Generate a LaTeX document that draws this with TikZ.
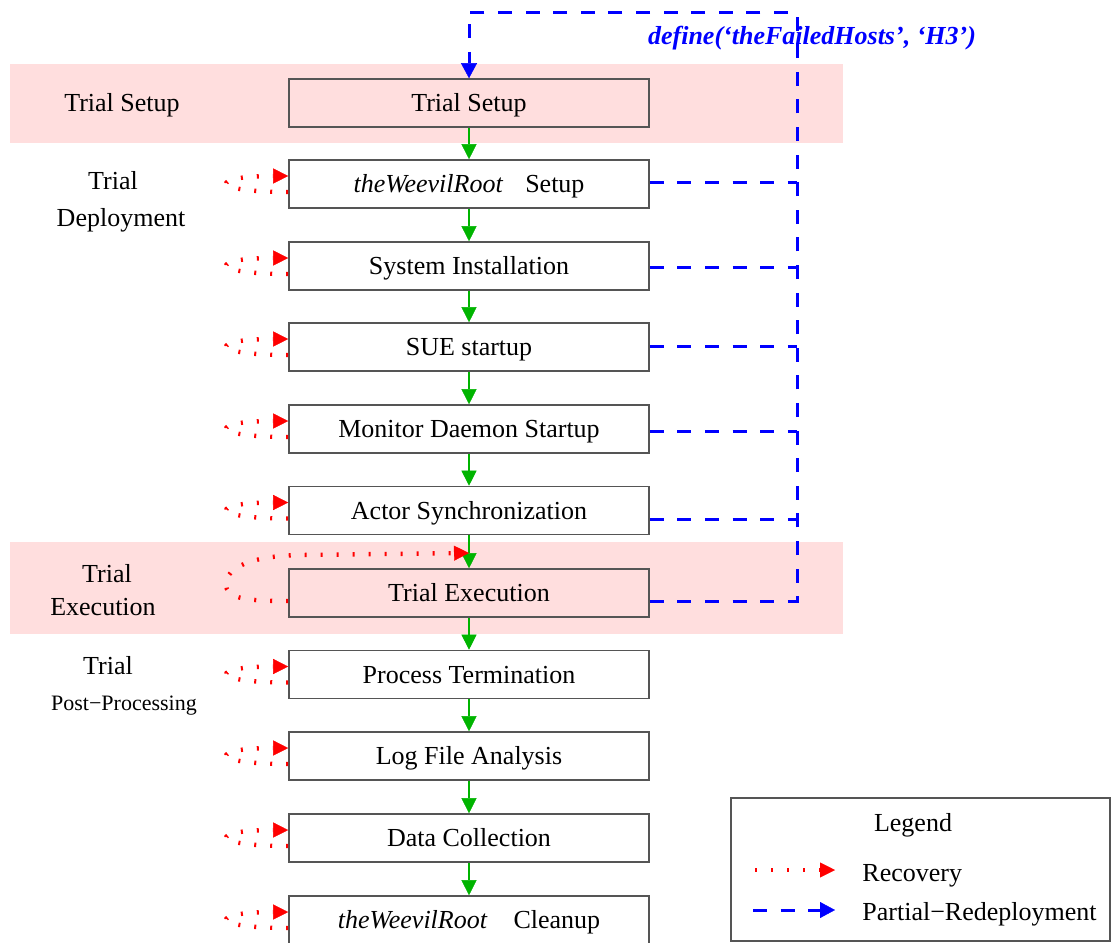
\documentclass[tikz,border=0pt]{standalone}
\usepackage{fontspec}
\setmainfont{Liberation Serif}
\usetikzlibrary{arrows.meta,calc}
\definecolor{bandpink}{RGB}{255,222,222}
\definecolor{flowgreen}{RGB}{0,180,0}
\definecolor{boxline}{RGB}{85,85,85}
\begin{document}
\begin{tikzpicture}[x=0.5pt,y=-0.5pt,
  every node/.style={font=\fontsize{13}{15.6}\selectfont},
  stage/.style={draw=boxline, line width=0.8pt, minimum width=180pt,
    minimum height=24pt, inner sep=0pt, text height=9pt, text depth=0.4pt},
  lbl/.style={inner sep=0pt, text height=9pt, text depth=0.4pt},
  flow/.style={draw=flowgreen, line width=0.6pt,
    -{Triangle[length=7.5pt,width=7.5pt,line width=0.2pt]}},
  recov/.style={draw=red, line width=2.2pt, dash pattern=on 1pt off 7pt,
    -{Triangle[length=7.5pt,width=7.5pt,line width=0.2pt]}},
  redeploy/.style={draw=blue, line width=1.5pt, dash pattern=on 7pt off 6.8pt},
  redeployarrow/.style={redeploy,
    -{Triangle[length=7.5pt,width=8pt,line width=0.2pt]}}]
\useasboundingbox (0,0) rectangle (1111,942);

% phase bands
\fill[bandpink] (10,64) rectangle (843,143);
\fill[bandpink] (10,542) rectangle (843,634);

% phase labels
\node[lbl] (ls)  at (122,103) {Trial Setup};
\node[lbl] (ld1) at (113,181) {Trial};
\node[lbl] (ld2) at (121,218) {Deployment};
\node[lbl] (le1) at (107,574) {Trial};
\node[lbl] (le2) at (103,607) {Execution};
\node[lbl] (lp1) at (108,666) {Trial};
\node[lbl, font=\fontsize{11}{13}\selectfont, text height=7.6pt, text depth=0.4pt]
  (lp2) at (124,703) {Post−Processing};

% trial stages
\node[stage] (s1)  at (469,103)   {Trial Setup};
\node[stage] (s2)  at (469,184)   {\textit{theWeevilRoot}\hspace{11pt}Setup};
\node[stage] (s3)  at (469,266)   {System Installation};
\node[stage] (s4)  at (469,347)   {SUE startup};
\node[stage] (s5)  at (469,429)   {Monitor Daemon Startup};
\node[stage] (s6)  at (469,510.5) {Actor Synchronization};
\node[stage] (s7)  at (469,593)   {Trial Execution};
\node[stage] (s8)  at (469,674.5) {Process Termination};
\node[stage] (s9)  at (469,756)   {Log File Analysis};
\node[stage] (s10) at (469,838)   {Data Collection};
\node[stage] (s11) at (469,920)   {\textit{theWeevilRoot}\hspace{13pt}Cleanup};

% normal flow
\foreach \a/\b in {s1/s2,s2/s3,s3/s4,s4/s5,s5/s6,s6/s7,s7/s8,s8/s9,s9/s10,s10/s11}
  \draw[flow] (\a) -- (\b);

% recovery loops
\foreach \s in {s2,s3,s4,s5,s6,s8,s9,s10,s11}
  \draw[recov] ($(\s.west)+(0,8)$) .. controls ($(\s.west)+(-80,8)$)
    and ($(\s.west)+(-80,-8)$) .. ($(\s.west)+(0,-8)$);
\coordinate (xin) at (469,553);
\draw[recov] ($(s7.west)+(0,8)$) .. controls ($(s7.west)+(-45,8)$) and (226,598)
  .. (226,584) .. controls (226,568) and (250,556) .. (300,555) -- (xin);

% partial redeployment
\node[font=\fontsize{13}{15.6}\selectfont\bfseries\itshape, text=blue, inner sep=0pt]
  (def) at (812,38) {define(‘theFailedHosts’, ‘H3’)};
\coordinate (vb) at (797,601);
\coordinate (vt) at (797,12);
\coordinate (ht) at (469,12);
\coordinate (j2) at (797,182);
\coordinate (j3) at (797,267);
\coordinate (j4) at (797,346);
\coordinate (j5) at (797,431);
\coordinate (j6) at (797,519);
\draw[redeploy] ($(s2.east)+(0,-2)$) -- (j2);
\draw[redeploy] ($(s3.east)+(0,1)$) -- (j3);
\draw[redeploy] ($(s4.east)+(0,-1)$) -- (j4);
\draw[redeploy] ($(s5.east)+(0,2)$) -- (j5);
\draw[redeploy] ($(s6.east)+(0,8.5)$) -- (j6);
\draw[redeployarrow] ($(s7.east)+(0,8)$) -- (vb) -- (vt) -- (ht) -- (s1.north);

% legend
\node[draw=boxline, line width=0.7pt, minimum width=189.5pt, minimum height=71.5pt,
  inner sep=0pt] (leg) at (920.5,869.5) {};
\node[lbl] (legt) at (913,823) {Legend};
\coordinate (r0) at (755,870);
\coordinate (r1) at (835,870);
\draw[recov] (r0) -- (r1);
\node[lbl, anchor=west] (lrec) at (862,873) {Recovery};
\coordinate (p0) at (753,910);
\coordinate (p1) at (835,910);
\draw[redeployarrow] (p0) -- (p1);
\node[lbl, anchor=west] (lred) at (862,912) {Partial−Redeployment};
\end{tikzpicture}
\end{document}
